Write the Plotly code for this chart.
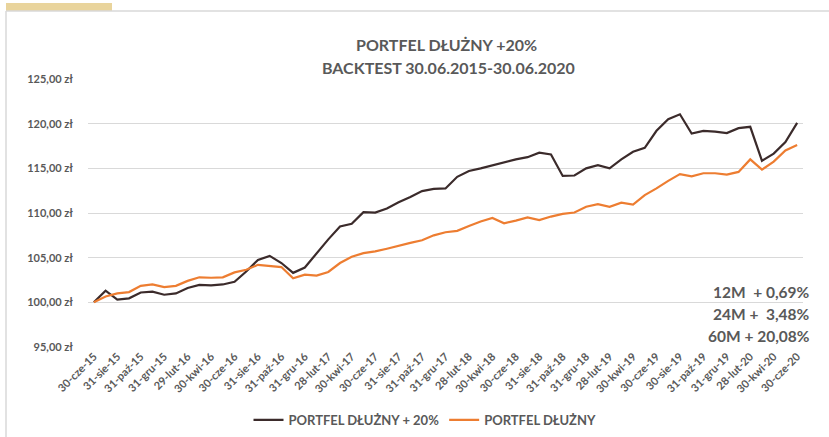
import plotly.graph_objects as go

tick_labels = ["30-cze-15", "31-sie-15", "31-paź-15", "31-gru-15", "29-lut-16", "30-kwi-16",
               "30-cze-16", "31-sie-16", "31-paź-16", "31-gru-16", "28-lut-17", "30-kwi-17",
               "30-cze-17", "31-sie-17", "31-paź-17", "31-gru-17", "28-lut-18", "30-kwi-18",
               "30-cze-18", "31-sie-18", "31-paź-18", "31-gru-18", "28-lut-19", "30-kwi-19",
               "30-cze-19", "30-sie-19", "31-paź-19", "31-gru-19", "28-lut-20", "30-kwi-20",
               "30-cze-20"]

months = list(range(61))

portfel_20 = [100.0, 101.3, 100.3, 100.45, 101.1, 101.2, 100.85, 101.0, 101.6, 101.95,
              101.9, 102.0, 102.3, 103.45, 104.75, 105.2, 104.4, 103.3, 103.9, 105.5,
              107.05, 108.5, 108.8, 110.1, 110.05, 110.5, 111.2, 111.8, 112.45, 112.7,
              112.75, 114.05, 114.7, 115.0, 115.35, 115.7, 116.0, 116.25, 116.75, 116.55,
              114.15, 114.2, 115.0, 115.35, 115.0, 116.0, 116.85, 117.3, 119.2, 120.5,
              121.05, 118.9, 119.2, 119.1, 118.95, 119.5, 119.65, 115.85, 116.65, 117.95,
              120.08]

portfel = [100.0, 100.65, 101.0, 101.15, 101.85, 102.0, 101.7, 101.85, 102.4, 102.8,
           102.75, 102.8, 103.35, 103.65, 104.2, 104.1, 103.95, 102.7, 103.1, 103.0,
           103.4, 104.4, 105.1, 105.5, 105.7, 106.0, 106.35, 106.65, 106.95, 107.5,
           107.85, 108.0, 108.55, 109.05, 109.45, 108.85, 109.15, 109.5, 109.2, 109.6,
           109.9, 110.05, 110.7, 111.0, 110.7, 111.15, 110.95, 112.0, 112.75, 113.6,
           114.35, 114.1, 114.45, 114.45, 114.3, 114.6, 116.0, 114.85, 115.75, 117.0,
           117.6]

series_names = ["PORTFEL DŁUŻNY + 20%", "PORTFEL DŁUŻNY"]
title_lines = ["PORTFEL DŁUŻNY +20%", "BACKTEST 30.06.2015-30.06.2020"]
stats_lines = ["12M  + 0,69%", "24M +  3,48%", "60M + 20,08%"]

W, H = 829, 437
L, R, T, B = 88, 26, 79, 90
pw, ph = W - L - R, H - T - B

def px_x(x):
    return (x - L) / pw

def px_y(y):
    return (H - B - y) / ph

FONT = "Lato"
GREY = "#595959"

fig = go.Figure()
fig.add_trace(go.Scatter(x=months, y=portfel_20, mode="lines", name=series_names[0],
                         line=dict(color="#3B2B2B", width=2.2)))
fig.add_trace(go.Scatter(x=months, y=portfel, mode="lines", name=series_names[1],
                         line=dict(color="#ED7D31", width=2.2)))

annotations = [
    dict(text=f"<b>{title_lines[0]}</b>", x=px_x(446), y=px_y(45), xref="paper", yref="paper",
         showarrow=False, font=dict(family=FONT, size=16, color=GREY), yanchor="middle"),
    dict(text=f"<b>{title_lines[1]}</b>", x=px_x(448), y=px_y(68), xref="paper", yref="paper",
         showarrow=False, font=dict(family=FONT, size=16, color=GREY), yanchor="middle"),
]
for i, (s, yy) in enumerate(zip(stats_lines, [292, 314, 336])):
    annotations.append(dict(text="<b>" + s.replace(" ", "&nbsp;") + "</b>", x=px_x(812), y=px_y(yy),
                            xref="paper", yref="paper", showarrow=False,
                            xanchor="right", yanchor="middle", align="right",
                            font=dict(family=FONT, size=15.5, color=GREY)))

shapes = [
    dict(type="rect", xref="paper", yref="paper", x0=px_x(6), x1=px_x(112),
         y0=px_y(11), y1=px_y(3), fillcolor="#E9D49C", line=dict(width=0), layer="below"),
    dict(type="line", xref="paper", yref="paper", x0=px_x(6), x1=px_x(830),
         y0=px_y(11), y1=px_y(11), line=dict(color="#D9D9D9", width=1.5)),
    dict(type="line", xref="paper", yref="paper", x0=px_x(6), x1=px_x(6),
         y0=px_y(11), y1=px_y(440), line=dict(color="#D9D9D9", width=1.5)),
]

fig.update_layout(
    width=W, height=H,
    margin=dict(l=L, r=R, t=T, b=B),
    paper_bgcolor="white", plot_bgcolor="white",
    font=dict(family=FONT, color=GREY),
    separators=", ",
    showlegend=True,
    legend=dict(orientation="h", x=px_x(425), xanchor="center", yref="container",
                y=1 - 420 / H, yanchor="middle", itemwidth=30,
                font=dict(family=FONT, size=13, color=GREY, weight="bold")),
    annotations=annotations,
    shapes=shapes,
)
fig.update_xaxes(range=[-0.5, 60.5], tickvals=list(range(0, 61, 2)), ticktext=tick_labels,
                 tickangle=-45, showgrid=False, zeroline=False, showline=False, ticks="",
                 automargin=False,
                 tickfont=dict(family=FONT, size=11, color=GREY, weight="bold"))
fig.update_yaxes(range=[95, 125], dtick=5, tickformat=".2f", ticksuffix=" zł",
                 showgrid=True, gridcolor="#D9D9D9", gridwidth=1, zeroline=False,
                 showline=False, ticks="", ticklabelstandoff=14, automargin=False,
                 tickfont=dict(family=FONT, size=11, color=GREY, weight="bold"))

fig.write_html("out.html", config={"displayModeBar": False},
               post_script="document.body.style.margin='0px';")
